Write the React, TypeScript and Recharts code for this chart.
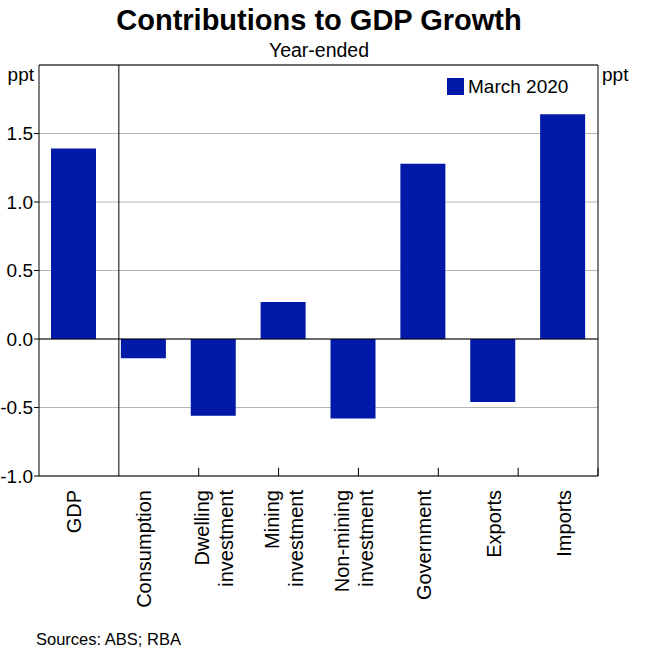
import React from "react";
import {
  BarChart,
  Bar,
  XAxis,
  YAxis,
  CartesianGrid,
  ReferenceLine,
} from "recharts";

const categories = [
  "GDP",
  "Consumption",
  "Dwelling investment",
  "Mining investment",
  "Non-mining investment",
  "Government",
  "Exports",
  "Imports",
];
const march2020 = [1.39, -0.14, -0.56, 0.27, -0.58, 1.28, -0.46, 1.64];
const yTicks = [-1, -0.5, 0, 0.5, 1, 1.5];
const separators = [1];
const boundaryTicks = [2, 3, 4, 5, 6, 7];
const seriesName = "March 2020";

const data = categories.map((c, i) => ({ name: c, value: march2020[i] }));

const FONT = "'Liberation Sans', Arial, sans-serif";
const BLUE = "#0019A8";

const XTick = (props: any) => {
  const { x, y, payload } = props;
  const lines: string[] = String(payload.value).split(" ");
  const n = lines.length;
  return (
    <g>
      {lines.map((l, i) => {
        const lx = x + 7.5 + (i - (n - 1) / 2) * 24.5;
        return (
          <text
            key={i}
            transform={`translate(${lx},${y + 14}) rotate(-90)`}
            textAnchor="end"
            fontSize={20}
            fontFamily={FONT}
            fill="#000"
          >
            {l}
          </text>
        );
      })}
    </g>
  );
};

export default function App() {
  return (
    <div
      style={{
        position: "absolute",
        left: 0,
        top: 0,
        width: 650,
        height: 650,
        background: "#fff",
        fontFamily: FONT,
      }}
    >
      <svg
        width={650}
        height={650}
        style={{ position: "absolute", left: 0, top: 0 }}
      >
        <text x={319} y={30} textAnchor="middle" fontSize={29} fontWeight="bold" fontFamily={FONT}>
          Contributions to GDP Growth
        </text>
        <text x={319} y={57} textAnchor="middle" fontSize={19.5} fontFamily={FONT}>
          Year-ended
        </text>
        <text x={34} y={81} textAnchor="end" fontSize={19} fontFamily={FONT}>
          ppt
        </text>
        <text x={602} y={81} textAnchor="start" fontSize={19} fontFamily={FONT}>
          ppt
        </text>
        <text x={36} y={645} fontSize={16.5} fontFamily={FONT}>
          Sources: ABS; RBA
        </text>
      </svg>
      <div style={{ position: "absolute", left: 0, top: 0 }}>
        <BarChart
          width={650}
          height={650}
          data={data}
          margin={{ top: 65, right: 0, left: 0, bottom: 0 }}
        >
          <CartesianGrid vertical={false} stroke="#b5b5b5" yAxisId="l" />
          <XAxis
            dataKey="name"
            type="category"
            height={174}
            axisLine={{ stroke: "#000" }}
            tickLine={false}
            tickSize={0}
            tickMargin={0}
            interval={0}
            tick={<XTick />}
          />
          <XAxis xAxisId="n" type="number" domain={[0, 8]} hide />
          <YAxis
            yAxisId="l"
            orientation="left"
            width={39}
            domain={[-1, 2]}
            ticks={yTicks}
            tickFormatter={(v: number) => v.toFixed(1)}
            axisLine={{ stroke: "#000" }}
            tickLine={{ stroke: "#000" }}
            tickSize={5}
            tickMargin={1}
            tick={{ fontSize: 19, fill: "#000", fontFamily: FONT }}
            interval={0}
          />
          <YAxis
            yAxisId="r"
            orientation="right"
            width={52}
            domain={[-1, 2]}
            ticks={yTicks}
            tickFormatter={(v: number) => v.toFixed(1)}
            axisLine={{ stroke: "#000" }}
            tickLine={{ stroke: "#000" }}
            tickSize={4}
            tickMargin={1}
            tick={{ fontSize: 19, fill: "#000", fontFamily: FONT }}
            interval={0}
          />
          <Bar
            yAxisId="l"
            dataKey="value"
            name={seriesName}
            fill={BLUE}
            barSize={45}
            isAnimationActive={false}
          />
          <ReferenceLine yAxisId="l" y={0} stroke="#000" strokeWidth={1} />
          <ReferenceLine yAxisId="l" y={2} stroke="#000" strokeWidth={1} />
          {separators.map((s) => (
            <ReferenceLine key={"s" + s} yAxisId="l" xAxisId="n" x={s} stroke="#000" strokeWidth={1} />
          ))}
          {boundaryTicks.map((b) => (
            <ReferenceLine
              key={"b" + b}
              yAxisId="l"
              xAxisId="n"
              segment={[
                { x: b, y: -1 },
                { x: b, y: -0.94 },
              ]}
              stroke="#000"
              strokeWidth={1}
            />
          ))}
        </BarChart>
      </div>
      <svg
        width={140}
        height={24}
        style={{ position: "absolute", left: 447, top: 76 }}
      >
        <rect x={0} y={2} width={17} height={17} fill={BLUE} />
        <text x={21} y={17} fontSize={19} fontFamily={FONT} fill="#000">
          {seriesName}
        </text>
      </svg>
    </div>
  );
}
